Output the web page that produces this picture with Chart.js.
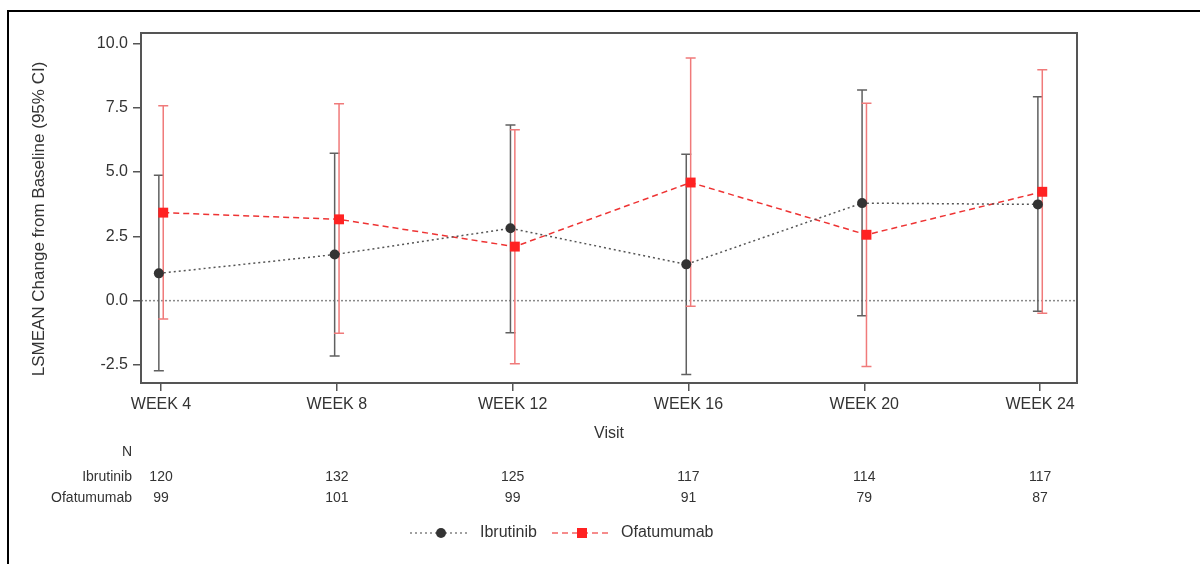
<!DOCTYPE html>
<html>
<head>
<meta charset="utf-8">
<script src="https://cdn.jsdelivr.net/npm/chart.js@4.4.1/dist/chart.umd.min.js"></script>
<style>
  html, body { margin: 0; padding: 0; background: #ffffff; }
  #wrap { position: relative; width: 1200px; height: 564px; }
  canvas { display: block; }
</style>
</head>
<body>
<div id="wrap"><canvas id="c" width="1200" height="564"></canvas></div>
<script>
// ---- data ----
const visits = ['WEEK 4', 'WEEK 8', 'WEEK 12', 'WEEK 16', 'WEEK 20', 'WEEK 24'];
const seriesNames = ['Ibrutinib', 'Ofatumumab'];
const ibrMean  = [1.06, 1.79, 2.81, 1.41, 3.79, 3.74];
const ibrLower = [-2.72, -2.15, -1.25, -2.87, -0.59, -0.41];
const ibrUpper = [4.87, 5.73, 6.83, 5.69, 8.19, 7.92];
const ofaMean  = [3.42, 3.16, 2.10, 4.59, 2.56, 4.23];
const ofaLower = [-0.71, -1.27, -2.45, -0.22, -2.56, -0.49];
const ofaUpper = [7.57, 7.65, 6.64, 9.43, 7.67, 8.97];
const ibrN = [120, 132, 125, 117, 114, 117];
const ofaN = [99, 101, 99, 91, 79, 87];
const yTicks = [-2.5, 0.0, 2.5, 5.0, 7.5, 10.0];

// ---- styles ----
const FONT = "'Liberation Sans', Arial, sans-serif";
const TXT = '#333333';
const IBR_COLOR = '#333333';
const IBR_BAR = '#606060';
const OFA_COLOR = '#ff2222';
const OFA_BAR = '#f07a7a';
const OFFSET = 0.0125;

const series = [
  { name: seriesNames[0], mean: ibrMean, lo: ibrLower, hi: ibrUpper, n: ibrN, off: -OFFSET,
    color: IBR_COLOR, bar: IBR_BAR, line: '#555555', dash: [2, 3], style: 'circle' },
  { name: seriesNames[1], mean: ofaMean, lo: ofaLower, hi: ofaUpper, n: ofaN, off: OFFSET,
    color: OFA_COLOR, bar: OFA_BAR, line: '#ee3333', dash: [6, 4], style: 'rect' }
];

const datasets = series.map(s => ({
  label: s.name,
  data: s.mean.map((v, i) => ({ x: i + 1 + s.off, y: v })),
  borderColor: s.line,
  borderWidth: 1.5,
  borderDash: s.dash,
  backgroundColor: s.color,
  pointBackgroundColor: s.color,
  pointBorderColor: s.color,
  pointStyle: s.style,
  pointRadius: s.style === 'rect' ? 7 : 5,
  pointBorderWidth: 0,
  tension: 0,
  fill: false
}));

const decor = {
  id: 'decor',
  beforeDatasetsDraw(chart) {
    const ctx = chart.ctx, a = chart.chartArea;
    const xs = chart.scales.x, ys = chart.scales.y;
    ctx.save();
    // zero reference line
    ctx.strokeStyle = '#8a8a8a';
    ctx.lineWidth = 1.5;
    ctx.setLineDash([2, 2]);
    const y0 = ys.getPixelForValue(0);
    ctx.beginPath(); ctx.moveTo(a.left, y0); ctx.lineTo(a.right, y0); ctx.stroke();
    ctx.setLineDash([]);
    // error bars
    series.forEach(s => {
      ctx.strokeStyle = s.bar;
      ctx.lineWidth = 1.5;
      s.mean.forEach((m, i) => {
        const x = xs.getPixelForValue(i + 1 + s.off);
        const yl = ys.getPixelForValue(s.lo[i]);
        const yh = ys.getPixelForValue(s.hi[i]);
        ctx.beginPath();
        ctx.moveTo(x, yl); ctx.lineTo(x, yh);
        ctx.moveTo(x - 5, yl); ctx.lineTo(x + 5, yl);
        ctx.moveTo(x - 5, yh); ctx.lineTo(x + 5, yh);
        ctx.stroke();
      });
    });
    ctx.restore();
  },
  afterDraw(chart) {
    const ctx = chart.ctx, a = chart.chartArea;
    const xs = chart.scales.x;
    ctx.save();
    // outer frame
    ctx.strokeStyle = '#000000';
    ctx.lineWidth = 2;
    ctx.strokeRect(8, 11, 1300, 700);
    // plot frame
    ctx.strokeStyle = '#555555';
    ctx.lineWidth = 2;
    ctx.strokeRect(a.left, a.top, a.right - a.left, a.bottom - a.top);
    // axis titles
    ctx.fillStyle = TXT;
    ctx.textAlign = 'center';
    ctx.textBaseline = 'middle';
    ctx.font = '16px ' + FONT;
    ctx.fillText('Visit', (a.left + a.right) / 2, 434);
    ctx.save();
    ctx.translate(39, 219);
    ctx.rotate(-Math.PI / 2);
    ctx.font = '17px ' + FONT;
    ctx.fillText('LSMEAN Change from Baseline (95% CI)', 0, 0);
    ctx.restore();
    // N table
    ctx.font = '14px ' + FONT;
    ctx.textAlign = 'right';
    ctx.fillText('N', 132, 452);
    const rowsY = [477, 498];
    series.forEach((s, k) => {
      ctx.textAlign = 'right';
      ctx.fillText(s.name, 132, rowsY[k]);
      ctx.textAlign = 'center';
      s.n.forEach((v, i) => {
        ctx.fillText(String(v), xs.getPixelForValue(i + 1), rowsY[k]);
      });
    });
    // legend
    const ly = 533;
    const items = [
      { s: series[0], x0: 410, x1: 468, mx: 441, tx: 480 },
      { s: series[1], x0: 552, x1: 610, mx: 582, tx: 621 }
    ];
    items.forEach(it => {
      ctx.strokeStyle = it.s.line;
      ctx.globalAlpha = 0.75;
      ctx.lineWidth = 1.5;
      ctx.setLineDash(it.s.dash);
      ctx.beginPath(); ctx.moveTo(it.x0, ly); ctx.lineTo(it.x1, ly); ctx.stroke();
      ctx.setLineDash([]);
      ctx.globalAlpha = 1;
      ctx.fillStyle = it.s.color;
      if (it.s.style === 'circle') {
        ctx.beginPath(); ctx.arc(it.mx, ly, 5, 0, Math.PI * 2); ctx.fill();
      } else {
        ctx.fillRect(it.mx - 5, ly - 5, 10, 10);
      }
      ctx.fillStyle = TXT;
      ctx.textAlign = 'left';
      ctx.font = '16px ' + FONT;
      ctx.fillText(it.s.name, it.tx, ly);
    });
    ctx.restore();
  }
};

new Chart(document.getElementById('c'), {
  type: 'line',
  data: { datasets },
  options: {
    responsive: false,
    animation: false,
    devicePixelRatio: 1,
    layout: { padding: { left: 0, top: 33, right: 123, bottom: 0 } },
    plugins: { legend: { display: false }, tooltip: { enabled: false } },
    scales: {
      x: {
        type: 'linear',
        min: 0.886,
        max: 6.21,
        afterBuildTicks: sc => { sc.ticks = visits.map((v, i) => ({ value: i + 1 })); },
        afterFit: sc => { sc.height = 181; },
        ticks: {
          callback: (v) => visits[Math.round(v) - 1] || '',
          color: TXT,
          font: { family: FONT, size: 16 },
          padding: 4,
          maxRotation: 0,
          autoSkip: false
        },
        grid: { drawOnChartArea: false, drawTicks: true, tickLength: 8, color: '#555555', lineWidth: 1.5 },
        border: { display: false }
      },
      y: {
        type: 'linear',
        min: -3.2,
        max: 10.4,
        afterBuildTicks: sc => { sc.ticks = yTicks.map(v => ({ value: v })); },
        afterFit: sc => { sc.width = 141; },
        ticks: {
          callback: (v) => Number(v).toFixed(1),
          color: TXT,
          font: { family: FONT, size: 16 },
          padding: 5
        },
        grid: { drawOnChartArea: false, drawTicks: true, tickLength: 8, color: '#555555', lineWidth: 1.5 },
        border: { display: false }
      }
    }
  },
  plugins: [decor]
});
</script>
</body>
</html>
